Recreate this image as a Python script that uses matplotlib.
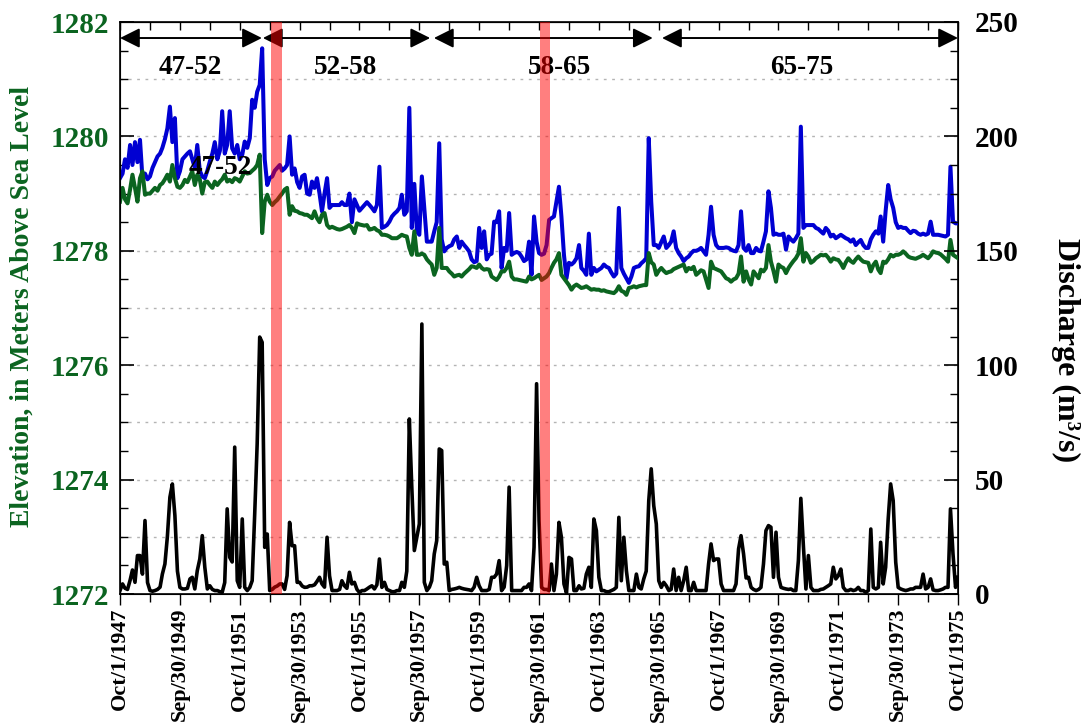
import pandas as pd
import matplotlib
matplotlib.use('Agg')
import matplotlib.pyplot as plt

# === Data (monthly, Oct 1947 - Oct 1975), one row per water year ===
start_date = '1947-10-01'

well_blue = [
    1279.27, 1279.35, 1279.6, 1279.45, 1279.85, 1279.5, 1279.9, 1279.55, 1279.94, 1279.27, 1279.35, 1279.25,
    1279.3, 1279.45, 1279.55, 1279.65, 1279.7, 1279.8, 1279.95, 1280.14, 1280.52, 1279.9, 1280.32, 1279.27,
    1279.39, 1279.6, 1279.65, 1279.7, 1279.74, 1279.6, 1279.45, 1279.85, 1279.4, 1279.3, 1279.27, 1279.4,
    1279.56, 1279.7, 1279.9, 1279.6, 1279.75, 1280.44, 1279.7, 1279.85, 1280.44, 1279.79, 1279.7, 1279.85,
    1279.6, 1279.68, 1279.91, 1279.8, 1279.97, 1280.64, 1280.5, 1280.78, 1280.9, 1281.54, 1279.6, 1279.15,
    1279.27, 1279.3, 1279.4, 1279.45, 1279.5, 1279.4, 1279.44, 1279.5, 1280.0, 1279.33, 1279.44, 1279.2,
    1279.1, 1279.3, 1279.33, 1279.0, 1278.98, 1279.21, 1279.1, 1279.27, 1279.0, 1278.69, 1279.0, 1279.27,
    1278.75, 1278.8, 1278.8, 1278.8, 1278.8, 1278.85, 1278.8, 1278.8, 1279.0, 1278.5, 1278.9, 1278.8,
    1278.7, 1278.75, 1278.8, 1278.85, 1278.8, 1278.75, 1278.69, 1278.8, 1279.47, 1278.4, 1278.42, 1278.45,
    1278.51, 1278.6, 1278.65, 1278.69, 1278.75, 1278.98, 1278.63, 1278.69, 1280.5, 1278.4, 1279.17, 1278.34,
    1278.28, 1279.3, 1278.75, 1278.16, 1278.16, 1278.16, 1278.34, 1278.5, 1279.88, 1278.2, 1277.99, 1278.05,
    1278.08, 1278.1, 1278.2, 1278.25, 1278.05, 1278.16, 1278.1, 1278.05, 1277.99, 1277.85, 1277.8, 1277.82,
    1278.4, 1278.05, 1278.34, 1277.85, 1277.93, 1277.95, 1278.51, 1278.5, 1278.69, 1277.7, 1278.05, 1278.0,
    1278.66, 1277.93, 1277.96, 1277.98, 1277.96, 1277.9, 1277.82, 1277.85, 1278.16, 1277.58, 1278.6, 1278.16,
    1277.96, 1277.93, 1277.95, 1278.1, 1278.54, 1278.57, 1278.6, 1278.86, 1279.12, 1278.6, 1277.93, 1277.52,
    1277.79, 1277.76, 1277.8, 1277.87, 1278.1, 1277.7, 1277.65, 1277.58, 1278.3, 1277.58, 1277.7, 1277.64,
    1277.67, 1277.7, 1277.76, 1277.72, 1277.7, 1277.62, 1277.55, 1277.6, 1278.75, 1277.7, 1277.6, 1277.52,
    1277.44, 1277.55, 1277.7, 1277.72, 1277.73, 1277.78, 1277.82, 1277.87, 1279.97, 1278.86, 1278.1, 1278.1,
    1278.05, 1278.15, 1278.25, 1278.05, 1278.1, 1278.16, 1278.34, 1278.05, 1277.96, 1277.9, 1277.82, 1277.87,
    1277.9, 1277.96, 1278.0, 1278.0, 1278.02, 1278.05, 1277.99, 1277.93, 1278.28, 1278.77, 1278.28, 1278.1,
    1278.05, 1278.05, 1278.05, 1278.06, 1278.05, 1278.02, 1278.0, 1277.99, 1278.1, 1278.69, 1278.05, 1278.0,
    1278.1, 1277.96, 1277.96, 1278.05, 1278.0, 1277.99, 1278.16, 1278.34, 1279.04, 1278.75, 1278.28, 1278.3,
    1278.28, 1278.28, 1278.3, 1278.02, 1278.25, 1278.2, 1278.16, 1278.22, 1278.3, 1280.17, 1278.4, 1278.45,
    1278.45, 1278.45, 1278.45, 1278.4, 1278.38, 1278.34, 1278.3, 1278.4, 1278.35, 1278.25, 1278.28, 1278.22,
    1278.25, 1278.28, 1278.25, 1278.22, 1278.2, 1278.16, 1278.2, 1278.1, 1278.15, 1278.19, 1278.1, 1278.05,
    1278.05, 1278.2, 1278.28, 1278.34, 1278.3, 1278.6, 1278.16, 1278.7, 1279.15, 1278.9, 1278.75, 1278.5,
    1278.4, 1278.42, 1278.4, 1278.4, 1278.35, 1278.31, 1278.35, 1278.34, 1278.3, 1278.28, 1278.3, 1278.28,
    1278.3, 1278.51, 1278.28, 1278.28, 1278.28, 1278.27, 1278.26, 1278.25, 1278.28, 1279.47, 1278.51, 1278.48,
    1278.48,
]

well_green = [
    1278.86, 1279.1, 1278.9, 1278.83, 1279.07, 1279.33, 1279.1, 1278.86, 1279.27, 1279.39, 1278.98, 1279.0,
    1279.0, 1279.05, 1279.1, 1279.05, 1279.15, 1279.18, 1279.25, 1279.33, 1279.21, 1279.5, 1279.27, 1279.12,
    1279.1, 1279.15, 1279.24, 1279.2, 1279.3, 1279.39, 1279.15, 1279.33, 1279.25, 1279.0, 1279.2, 1279.21,
    1279.15, 1279.1, 1279.21, 1279.15, 1279.21, 1279.25, 1279.33, 1279.21, 1279.24, 1279.2, 1279.27, 1279.25,
    1279.21, 1279.3, 1279.39, 1279.35, 1279.36, 1279.4, 1279.44, 1279.5, 1279.68, 1278.31, 1278.86, 1278.98,
    1278.86, 1278.8, 1278.85, 1278.89, 1278.95, 1279.0, 1279.07, 1279.1, 1278.63, 1278.78, 1278.7, 1278.69,
    1278.66, 1278.65, 1278.63, 1278.63, 1278.6, 1278.57, 1278.69, 1278.57, 1278.5, 1278.63, 1278.66, 1278.45,
    1278.4, 1278.42, 1278.4, 1278.38, 1278.37, 1278.38, 1278.4, 1278.42, 1278.45, 1278.4, 1278.31, 1278.48,
    1278.46, 1278.45, 1278.44, 1278.45, 1278.37, 1278.38, 1278.4, 1278.36, 1278.34, 1278.28, 1278.28, 1278.27,
    1278.25, 1278.22, 1278.22, 1278.22, 1278.25, 1278.28, 1278.26, 1278.25, 1278.05, 1277.93, 1278.34, 1277.93,
    1277.93, 1277.95, 1277.93, 1277.85, 1277.8, 1277.76, 1277.58, 1277.7, 1278.4, 1277.7, 1277.7, 1277.7,
    1277.64, 1277.6, 1277.55, 1277.57, 1277.58, 1277.55, 1277.6, 1277.64, 1277.68, 1277.73, 1277.72, 1277.7,
    1277.76, 1277.7, 1277.67, 1277.68, 1277.67, 1277.55, 1277.52, 1277.49, 1277.55, 1277.64, 1277.64, 1277.7,
    1277.81, 1277.55, 1277.5, 1277.5, 1277.49, 1277.48, 1277.47, 1277.46, 1277.55, 1277.5, 1277.52, 1277.55,
    1277.58, 1277.49, 1277.52, 1277.55, 1277.61, 1277.7, 1277.79, 1277.85, 1277.96, 1277.58, 1277.52, 1277.46,
    1277.4, 1277.32, 1277.38, 1277.41, 1277.38, 1277.35, 1277.36, 1277.38, 1277.35, 1277.32, 1277.33, 1277.32,
    1277.32, 1277.3, 1277.31, 1277.29, 1277.28, 1277.27, 1277.26, 1277.3, 1277.38, 1277.3, 1277.28, 1277.23,
    1277.35, 1277.36, 1277.38, 1277.36, 1277.38, 1277.39, 1277.4, 1277.4, 1277.96, 1277.8, 1277.76, 1277.58,
    1277.65, 1277.7, 1277.65, 1277.61, 1277.63, 1277.64, 1277.68, 1277.7, 1277.72, 1277.74, 1277.76, 1277.64,
    1277.7, 1277.68, 1277.72, 1277.58, 1277.62, 1277.66, 1277.64, 1277.5, 1277.35, 1277.81, 1277.7, 1277.68,
    1277.66, 1277.64, 1277.58, 1277.52, 1277.5, 1277.46, 1277.5, 1277.52, 1277.6, 1277.9, 1277.46, 1277.64,
    1277.5, 1277.41, 1277.64, 1277.58, 1277.52, 1277.67, 1277.64, 1277.7, 1278.1, 1277.81, 1277.65, 1277.46,
    1277.76, 1277.72, 1277.7, 1277.61, 1277.7, 1277.76, 1277.82, 1277.87, 1277.95, 1278.22, 1277.81, 1277.96,
    1277.9, 1277.79, 1277.82, 1277.87, 1277.9, 1277.93, 1277.92, 1277.93, 1277.88, 1277.81, 1277.87, 1277.85,
    1277.84, 1277.78, 1277.7, 1277.8, 1277.87, 1277.82, 1277.79, 1277.85, 1277.9, 1277.85, 1277.81, 1277.8,
    1277.79, 1277.64, 1277.75, 1277.81, 1277.67, 1277.61, 1277.81, 1277.79, 1277.85, 1277.93, 1277.9, 1277.93,
    1277.93, 1277.95, 1277.99, 1277.95, 1277.9, 1277.88, 1277.87, 1277.86, 1277.88, 1277.9, 1277.93, 1277.9,
    1277.87, 1277.92, 1277.99, 1277.97, 1277.96, 1277.94, 1277.9, 1277.86, 1277.81, 1278.19, 1277.93, 1277.9,
    1277.87,
]

discharge = [
    1.5, 4.4, 2.5, 2.0, 6.0, 10.5, 5.1, 16.8, 16.8, 8.7, 32.1, 5.0,
    1.5, 1.2, 1.5, 2.0, 3.0, 8.7, 13.1, 25.0, 42.3, 48.1, 34.3, 10.0,
    2.9, 2.2, 2.2, 2.5, 6.6, 7.3, 2.2, 10.2, 15.3, 25.5, 11.7, 2.2,
    3.6, 2.0, 1.5, 1.5, 1.0, 0.7, 5.0, 37.2, 16.0, 14.0, 64.2, 5.8,
    2.9, 32.8, 2.9, 1.5, 2.9, 5.8, 35.0, 65.6, 112.3, 110.0, 20.4, 26.2,
    1.5, 2.0, 3.0, 3.5, 4.4, 4.4, 2.0, 8.0, 31.3, 21.1, 21.1, 5.1,
    5.1, 3.5, 2.9, 3.0, 3.6, 3.6, 4.0, 5.5, 7.3, 4.4, 3.0, 24.8,
    8.0, 1.5, 1.5, 1.5, 2.0, 5.8, 3.6, 2.5, 9.5, 4.4, 5.1, 2.0,
    0.7, 1.5, 1.5, 2.2, 3.0, 3.6, 2.2, 4.0, 15.3, 2.9, 5.1, 2.0,
    1.5, 1.0, 1.0, 1.5, 1.5, 5.1, 2.9, 10.0, 76.5, 46.7, 19.0, 25.0,
    30.6, 118.0, 5.1, 1.5, 3.0, 5.8, 17.5, 23.3, 63.4, 62.7, 13.1, 13.9,
    1.5, 2.0, 2.2, 2.5, 2.9, 2.5, 2.2, 2.0, 1.8, 1.5, 3.0, 7.3,
    3.6, 1.5, 1.5, 1.5, 2.0, 7.3, 7.3, 8.7, 14.6, 1.5, 3.0, 12.4,
    46.7, 1.5, 1.5, 1.5, 1.5, 1.5, 2.9, 2.9, 4.4, 1.5, 20.4, 91.9,
    32.1, 2.9, 2.0, 2.0, 1.5, 13.1, 1.5, 8.7, 31.3, 24.8, 4.4, 0.5,
    16.0, 15.3, 1.5, 1.5, 3.6, 2.2, 2.5, 8.7, 11.7, 2.9, 32.8, 27.7,
    7.3, 1.5, 1.5, 1.0, 1.0, 1.5, 2.0, 2.9, 33.5, 5.8, 24.8, 10.2,
    1.5, 1.5, 1.5, 8.7, 2.9, 2.2, 6.6, 10.0, 40.8, 54.7, 38.6, 30.6,
    5.8, 2.9, 5.1, 3.6, 1.5, 2.0, 10.9, 1.5, 7.3, 1.5, 5.8, 11.7,
    1.5, 1.5, 5.1, 1.5, 1.5, 1.5, 1.5, 1.5, 13.1, 21.9, 14.6, 15.3,
    15.3, 4.4, 1.5, 1.5, 1.5, 1.5, 1.5, 4.4, 19.7, 25.5, 17.5, 7.0,
    7.3, 2.9, 2.0, 1.5, 2.0, 2.9, 13.1, 27.7, 29.9, 29.2, 7.3, 27.0,
    7.3, 2.9, 2.5, 2.2, 2.0, 2.2, 1.5, 1.5, 14.6, 41.8, 21.1, 2.2,
    16.8, 2.9, 1.5, 1.5, 1.5, 2.0, 2.2, 2.9, 3.6, 4.4, 11.7, 6.6,
    8.0, 10.9, 2.9, 1.5, 1.5, 2.0, 1.5, 1.8, 2.9, 1.5, 1.5, 0.7,
    1.5, 28.4, 2.9, 2.2, 2.9, 22.6, 4.4, 11.7, 32.8, 48.1, 40.8, 13.9,
    2.9, 2.2, 1.8, 1.5, 1.8, 2.2, 2.2, 2.9, 2.9, 2.9, 8.7, 2.2,
    2.9, 6.6, 1.8, 1.5, 1.5, 1.8, 2.2, 2.9, 2.9, 37.2, 17.5, 2.9,
    7.3,
]

tick_dates = ['1947-10-01', '1949-09-30', '1951-10-01', '1953-09-30', '1955-10-01',
              '1957-09-30', '1959-10-01', '1961-09-30', '1963-10-01', '1965-09-30',
              '1967-10-01', '1969-09-30', '1971-10-01', '1973-09-30', '1975-10-01']
tick_labels = ['Oct/1/1947', 'Sep/30/1949', 'Oct/1/1951', 'Sep/30/1953', 'Oct/1/1955',
               'Sep/30/1957', 'Oct/1/1959', 'Sep/30/1961', 'Oct/1/1963', 'Sep/30/1965',
               'Oct/1/1967', 'Sep/30/1969', 'Oct/1/1971', 'Sep/30/1973', 'Oct/1/1975']

# highlighted periods (red bands)
band_starts = ['1952-10-15', '1961-10-12']
band_ends = ['1953-03-05', '1962-02-12']

# period arrows at the top
period_names = ['47-52', '52-58', '58-65', '65-75']
period_starts = ['1947-10-01', '1952-07-10', '1958-03-28', '1965-11-10']
period_ends = ['1952-06-28', '1958-02-10', '1965-07-20', '1975-10-01']
period_label_dates = ['1950-02-01', '1955-04-15', '1962-06-01', '1970-07-15']

# === Style ===
plt.rcParams['font.family'] = ['Liberation Serif', 'DejaVu Serif']
plt.rcParams['font.weight'] = 'bold'
GREEN = '#0b6420'
BLUE = '#0000d2'

dates = pd.date_range(start_date, periods=len(discharge), freq='MS')
x_left = pd.Timestamp('1947-10-01')
x_right = pd.Timestamp('1975-10-01')

fig = plt.figure(figsize=(10.85, 7.26), dpi=100)
ax = fig.add_axes([120 / 1085, 1 - 594 / 726, 838 / 1085, 572 / 726])
ax2 = ax.twinx()

# grid lines every 1 m (= 25 m3/s)
for lev in range(1273, 1282):
    ax.axhline(lev, color='#b4b4b4', lw=1.0, ls=(0, (2, 4)), zorder=0)

ax.plot(dates, well_blue, color=BLUE, lw=2.9, zorder=3)
ax.plot(dates, well_green, color=GREEN, lw=2.9, zorder=4)
ax2.plot(dates, discharge, color='black', lw=2.6, zorder=3)

for s, e in zip(band_starts, band_ends):
    ax2.axvspan(pd.Timestamp(s), pd.Timestamp(e), color='red', alpha=0.5, lw=0, zorder=10)

# axis limits / ticks
ax.set_xlim(x_left, x_right)
ax.set_ylim(1272, 1282)
ax2.set_ylim(0, 250)

ax.set_yticks(range(1272, 1283, 2))
ax.set_yticks([1272 + 0.5 * i for i in range(21)], minor=True)
ax2.set_yticks(range(0, 251, 50))
ax2.set_yticks([12.5 * i for i in range(21)], minor=True)

ax.set_xticks([pd.Timestamp(d) for d in tick_dates])
ax.set_xticklabels(tick_labels, rotation=90)
ax.set_xticks([pd.Timestamp('%d-10-01' % y) for y in range(1948, 1976, 2)], minor=True)

ax.tick_params(axis='x', which='major', direction='out', length=8, width=1, labelsize=16, pad=2)
ax.tick_params(axis='x', which='minor', direction='out', length=6, width=1)
ax.tick_params(axis='y', which='major', direction='in', length=10, width=1.2,
               labelsize=21, labelcolor=GREEN, pad=8)
ax.tick_params(axis='y', which='minor', direction='in', length=6, width=1)
ax2.tick_params(axis='y', which='major', direction='in', length=10, width=1.2, labelsize=21, pad=12)
ax2.tick_params(axis='y', which='minor', direction='in', length=6, width=1)

top = ax.secondary_xaxis('top')
top.set_xticks([pd.Timestamp('%d-10-01' % y) for y in range(1947, 1976)])
top.tick_params(axis='x', direction='in', length=6, width=1, labeltop=False)
top.set_xticklabels([])

for sp in ax.spines.values():
    sp.set_linewidth(1.2)

# period arrows and labels
for name, s, e, lbl in zip(period_names, period_starts, period_ends, period_label_dates):
    ax.annotate('', xy=(pd.Timestamp(e), 1281.72), xytext=(pd.Timestamp(s), 1281.72),
                arrowprops=dict(arrowstyle='<|-|>', color='black', lw=1.4,
                                mutation_scale=30, shrinkA=0, shrinkB=0), zorder=5)
    ax.text(pd.Timestamp(lbl), 1281.2, name, ha='center', va='center', fontsize=19.5,
            fontweight='bold', zorder=6)

ax.text(pd.Timestamp('1951-02-01'), 1279.45, '47-52', ha='center', va='center',
        fontsize=19.5, fontweight='bold', zorder=6)

fig.text(22 / 1085, 1 - 306 / 726, 'Elevation, in Meters Above Sea Level', rotation=90,
         ha='center', va='center', fontsize=20, fontweight='bold', color=GREEN)
fig.text(1066 / 1085, 1 - 350 / 726, 'Discharge (m\u00b3/s)', rotation=270,
         ha='center', va='center', fontsize=23, fontweight='bold', color='black')

plt.savefig('out.png', dpi=100)
